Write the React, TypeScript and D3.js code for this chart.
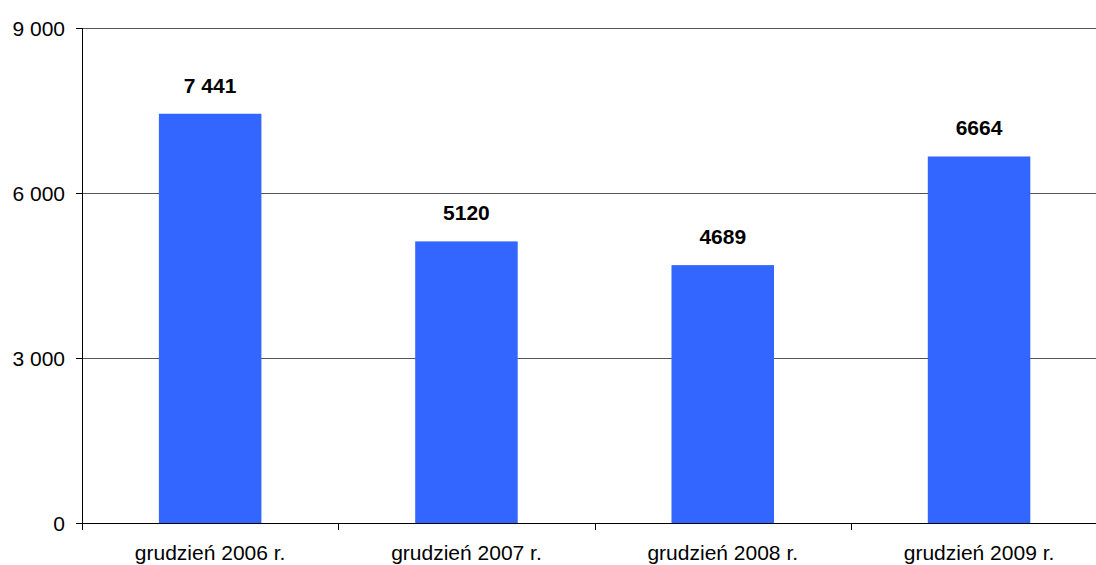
import React, { useEffect, useRef } from 'react';
import * as d3 from 'd3';

const categories = ['grudzień 2006 r.', 'grudzień 2007 r.', 'grudzień 2008 r.', 'grudzień 2009 r.'];
const values = [7441, 5120, 4689, 6664];
const valueLabels = ['7 441', '5120', '4689', '6664'];
const yTicks = [0, 3000, 6000, 9000];
const yTickLabels = ['0', '3 000', '6 000', '9 000'];

export default function App() {
  const svgRef = useRef<SVGSVGElement>(null);

  useEffect(() => {
    if (!svgRef.current) return;
    const svg = d3.select(svgRef.current);
    svg.selectAll('*').remove();

    const width = 1096;
    const left = 82;
    const step = 256.3;
    const font = '"Liberation Sans", Arial, sans-serif';

    const x = d3.scaleBand<string>()
      .domain(categories)
      .range([left, left + step * categories.length])
      .paddingInner(0.6)
      .paddingOuter(0.3);
    const y = d3.scaleLinear().domain([0, 9000]).range([523, 28]);

    // gridlines
    svg.append('g')
      .selectAll('line')
      .data(yTicks.filter(t => t > 0))
      .join('line')
      .attr('x1', left)
      .attr('x2', width)
      .attr('y1', d => Math.round(y(d)) + 0.5)
      .attr('y2', d => Math.round(y(d)) + 0.5)
      .attr('stroke', '#555')
      .attr('stroke-width', 1);

    // bars
    svg.append('g')
      .selectAll('rect')
      .data(values)
      .join('rect')
      .attr('x', (d, i) => x(categories[i])!)
      .attr('width', x.bandwidth())
      .attr('y', d => y(d))
      .attr('height', d => y(0) - y(d))
      .attr('fill', '#3366ff');

    // value labels
    svg.append('g')
      .selectAll('text')
      .data(values)
      .join('text')
      .attr('x', (d, i) => x(categories[i])! + x.bandwidth() / 2)
      .attr('y', d => y(d) - 21)
      .attr('text-anchor', 'middle')
      .attr('font-family', font)
      .attr('font-size', 21)
      .attr('font-weight', 'bold')
      .attr('fill', '#000')
      .text((d, i) => valueLabels[i]);

    // y axis
    const ya = svg.append('g');
    ya.append('line')
      .attr('x1', left + 0.5).attr('x2', left + 0.5)
      .attr('y1', y(9000)).attr('y2', y(0) + 0.5)
      .attr('stroke', '#000');
    ya.selectAll('.tk')
      .data(yTicks)
      .join('line')
      .attr('class', 'tk')
      .attr('x1', left - 6).attr('x2', left)
      .attr('y1', d => Math.round(y(d)) + 0.5)
      .attr('y2', d => Math.round(y(d)) + 0.5)
      .attr('stroke', '#000');
    ya.selectAll('text')
      .data(yTicks)
      .join('text')
      .attr('x', left - 17)
      .attr('y', d => y(d))
      .attr('dy', '0.36em')
      .attr('text-anchor', 'end')
      .attr('font-family', font)
      .attr('font-size', 21)
      .attr('fill', '#000')
      .text((d, i) => yTickLabels[i]);

    // x axis
    const xa = svg.append('g');
    xa.append('line')
      .attr('x1', left).attr('x2', width)
      .attr('y1', y(0) + 0.5).attr('y2', y(0) + 0.5)
      .attr('stroke', '#000');
    const bounds = d3.range(categories.length + 1).map(i => left + i * x.step());
    xa.selectAll('.tk')
      .data(bounds)
      .join('line')
      .attr('class', 'tk')
      .attr('x1', d => Math.round(d) + 0.5)
      .attr('x2', d => Math.round(d) + 0.5)
      .attr('y1', y(0))
      .attr('y2', y(0) + 7)
      .attr('stroke', '#000');
    xa.selectAll('text')
      .data(categories)
      .join('text')
      .attr('x', d => x(d)! + x.bandwidth() / 2)
      .attr('y', 560)
      .attr('text-anchor', 'middle')
      .attr('font-family', font)
      .attr('font-size', 21)
      .attr('fill', '#000')
      .text(d => d);
  }, []);

  return (
    <svg
      ref={svgRef}
      width={1096}
      height={565}
      style={{ position: 'absolute', left: 0, top: 0, background: '#fff' }}
    />
  );
}
